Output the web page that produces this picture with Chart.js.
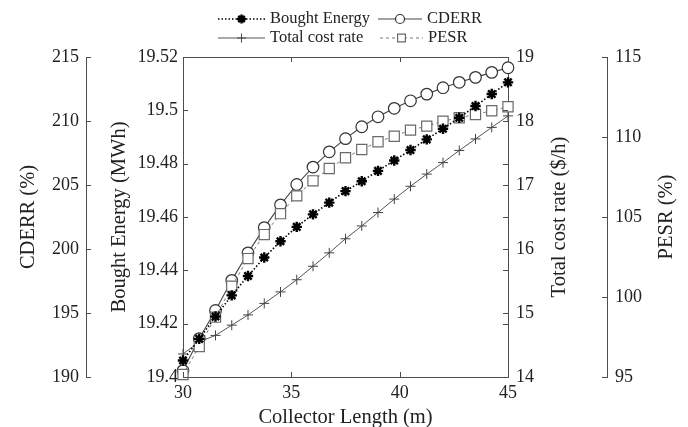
<!DOCTYPE html>
<html>
<head>
<meta charset="utf-8">
<script src="https://cdn.jsdelivr.net/npm/chart.js@4.4.1/dist/chart.umd.min.js"></script>
<style>
  html, body { margin: 0; padding: 0; background: #fff; }
  #wrap { width: 688px; height: 427px; }
</style>
</head>
<body>
<div id="wrap"><canvas id="chart" width="688" height="427"></canvas></div>
<script>
// collector length (m)
const lengths = [30, 30.75, 31.5, 32.25, 33, 33.75, 34.5, 35.25, 36, 36.75, 37.5,
                 38.25, 39, 39.75, 40.5, 41.25, 42, 42.75, 43.5, 44.25, 45];

// series
const boughtEnergy = [19.4062, 19.4143, 19.4227, 19.4306, 19.4379, 19.4448, 19.4509, 19.4563, 19.4610, 19.4654, 19.4697,
                      19.4734, 19.4773, 19.4812, 19.4851, 19.4891, 19.4931, 19.4972, 19.5016, 19.5061, 19.5105];
const cderr = [190.5, 193.0, 195.2, 197.55, 199.7, 201.67, 203.45, 205.04, 206.4, 207.59, 208.62,
               209.55, 210.33, 210.99, 211.58, 212.1, 212.6, 213.02, 213.41, 213.8, 214.16];
const totalCost = [14.36, 14.55, 14.65, 14.81, 14.97, 15.15, 15.33, 15.52, 15.73, 15.94, 16.16,
                   16.36, 16.57, 16.78, 16.98, 17.17, 17.35, 17.54, 17.72, 17.9, 18.08];
const pesr = [95.16, 96.91, 98.74, 100.67, 102.4, 103.9, 105.21, 106.32, 107.26, 108.03, 108.7,
              109.22, 109.7, 110.05, 110.43, 110.68, 110.99, 111.2, 111.41, 111.64, 111.89];

// tick labels
const xTicks = [30, 35, 40, 45];
const beTicks = [19.4, 19.42, 19.44, 19.46, 19.48, 19.5, 19.52];
const cdTicks = [190, 195, 200, 205, 210, 215];
const tcTicks = [14, 15, 16, 17, 18, 19];
const peTicks = [95, 100, 105, 110, 115];

const serif = "'Liberation Serif', 'Times New Roman', serif";
const textColor = '#222';
const axisColor = '#4d4d4d';

Chart.defaults.font.family = serif;
Chart.defaults.color = textColor;

function pts(ys) {
    return lengths.map((x, i) => ({ x: x, y: ys[i] }));
}

function setTicks(list) {
    return scale => { scale.ticks = list.map(v => ({ value: v })); };
}

const tickFont = { family: serif, size: 18 };
const titleFont = { family: serif, size: 20.5 };

const datasets = [
    {
        label: 'Bought Energy', data: pts(boughtEnergy), yAxisID: 'yBE', order: 1,
        borderColor: '#000', borderWidth: 1.6, borderDash: [1.5, 2],
        pointStyle: 'star', pointRadius: 5.2, pointBorderWidth: 2.4,
        pointBackgroundColor: '#000', pointBorderColor: '#000'
    },
    {
        label: 'PESR', data: pts(pesr), yAxisID: 'yPE', order: 2,
        borderColor: '#777', borderWidth: 1, borderDash: [3, 3],
        pointStyle: 'rect', pointRadius: 7.2, pointBorderWidth: 1.2,
        pointBackgroundColor: '#fff', pointBorderColor: '#6a6a6a'
    },
    {
        label: 'CDERR', data: pts(cderr), yAxisID: 'yCD', order: 3,
        borderColor: '#444', borderWidth: 1.1,
        pointStyle: 'circle', pointRadius: 5.8, pointBorderWidth: 1.2,
        pointBackgroundColor: '#fff', pointBorderColor: '#333'
    },
    {
        label: 'Total cost rate', data: pts(totalCost), yAxisID: 'yTC', order: 4,
        borderColor: '#555', borderWidth: 1,
        pointStyle: 'cross', pointRadius: 5, pointBorderWidth: 1,
        pointBackgroundColor: '#555', pointBorderColor: '#444'
    }
];
datasets.forEach(d => { d.tension = 0; d.clip = false; d.pointHoverRadius = d.pointRadius; });

// no grid, just the axis line
const plainGrid = { drawOnChartArea: false, drawTicks: false };
const plainBorder = { color: axisColor, width: 1 };
const trim = v => String(Number(v.toFixed(2)));

// tick marks, box edges, right-hand titles and the legend
const decorations = {
    id: 'decorations',
    afterDatasetsDraw(chart) {
        const { ctx, chartArea: a, scales } = chart;
        const len = 5;
        ctx.save();
        ctx.strokeStyle = axisColor;
        ctx.lineWidth = 1;
        ctx.beginPath();
        ctx.moveTo(a.left, Math.round(a.top) + 0.5);
        ctx.lineTo(a.right, Math.round(a.top) + 0.5);
        scales.x.ticks.forEach(t => {
            const px = Math.round(scales.x.getPixelForValue(t.value)) + 0.5;
            ctx.moveTo(px, a.bottom); ctx.lineTo(px, a.bottom - len);
            ctx.moveTo(px, a.top); ctx.lineTo(px, a.top + len);
        });
        scales.yBE.ticks.forEach(t => {
            const py = Math.round(scales.yBE.getPixelForValue(t.value)) + 0.5;
            ctx.moveTo(a.left, py); ctx.lineTo(a.left + len, py);
            ctx.moveTo(a.right, py); ctx.lineTo(a.right - len, py);
        });
        scales.yTC.ticks.forEach(t => {
            const py = Math.round(scales.yTC.getPixelForValue(t.value)) + 0.5;
            ctx.moveTo(a.right, py); ctx.lineTo(a.right - len, py);
        });
        scales.yCD.ticks.forEach(t => {
            const py = Math.round(scales.yCD.getPixelForValue(t.value)) + 0.5;
            const bx = scales.yCD.right;
            ctx.moveTo(bx, py); ctx.lineTo(bx + len, py);
        });
        scales.yPE.ticks.forEach(t => {
            const py = Math.round(scales.yPE.getPixelForValue(t.value)) + 0.5;
            const bx = scales.yPE.left;
            ctx.moveTo(bx, py); ctx.lineTo(bx - len, py);
        });
        ctx.stroke();
        ctx.restore();
    },
    afterDraw(chart) {
        const { ctx, chartArea: a, scales } = chart;
        const midY = (a.top + a.bottom) / 2;
        ctx.save();
        ctx.fillStyle = textColor;
        ctx.font = '20.5px ' + serif;
        ctx.textAlign = 'center';
        ctx.textBaseline = 'middle';
        [[scales.yTC.right - 47, 'Total cost rate ($/h)'], [scales.yPE.right - 21, 'PESR (%)']].forEach(([x, text]) => {
            ctx.save();
            ctx.translate(x, midY);
            ctx.rotate(-Math.PI / 2);
            ctx.fillText(text, 0, 0);
            ctx.restore();
        });
        ctx.restore();

        // legend, two rows of two
        const byLabel = {};
        chart.data.datasets.forEach(d => { byLabel[d.label] = d; });
        const items = [
            ['Bought Energy', 218, 265, 19, 4.5],
            ['CDERR', 378, 422, 19, 4.5],
            ['Total cost rate', 218, 265, 38, 4.5],
            ['PESR', 380, 423, 38, 5.5]
        ];
        items.forEach(([label, x0, x1, y, r]) => {
            const ds = byLabel[label];
            ctx.save();
            ctx.strokeStyle = ds.borderColor;
            ctx.lineWidth = ds.borderWidth;
            ctx.setLineDash(ds.borderDash || []);
            ctx.beginPath();
            ctx.moveTo(x0, y); ctx.lineTo(x1, y);
            ctx.stroke();
            ctx.setLineDash([]);
            ctx.strokeStyle = ds.pointBorderColor;
            ctx.fillStyle = ds.pointBackgroundColor;
            ctx.lineWidth = ds.pointBorderWidth;
            Chart.helpers.drawPoint(ctx, { pointStyle: ds.pointStyle, radius: r, rotation: 0, borderWidth: ds.pointBorderWidth }, (x0 + x1) / 2, y);
            ctx.fillStyle = textColor;
            ctx.font = '16.5px ' + serif;
            ctx.textAlign = 'left';
            ctx.textBaseline = 'middle';
            ctx.fillText(label, x1 + 5, y);
            ctx.restore();
        });
    }
};

new Chart(document.getElementById('chart'), {
    type: 'line',
    data: { datasets: datasets },
    options: {
        responsive: false,
        animation: false,
        layout: { padding: { top: 57, left: 0, right: 0, bottom: 0 } },
        plugins: { legend: { display: false }, tooltip: { enabled: false } },
        scales: {
            x: {
                type: 'linear', position: 'bottom', min: 30, max: 45,
                afterBuildTicks: setTicks(xTicks),
                afterFit: s => { s.height = 50; },
                ticks: { font: tickFont, padding: 5, color: textColor },
                grid: plainGrid, border: plainBorder,
                title: { display: true, text: 'Collector Length (m)', font: titleFont, color: textColor, padding: { top: 0, bottom: -3 } }
            },
            yBE: {
                type: 'linear', position: 'left', weight: 0, min: 19.4, max: 19.52,
                afterBuildTicks: setTicks(beTicks),
                afterFit: s => { s.width = 97; },
                ticks: { font: tickFont, padding: 5, color: textColor, callback: trim },
                grid: plainGrid, border: plainBorder,
                title: { display: true, text: 'Bought Energy (MWh)', font: titleFont, color: textColor, padding: { top: 21, bottom: 0 } }
            },
            yCD: {
                type: 'linear', position: 'left', weight: 1, min: 190, max: 215,
                afterBuildTicks: setTicks(cdTicks),
                afterFit: s => { s.width = 86; },
                ticks: { font: tickFont, padding: 7, color: textColor },
                grid: plainGrid, border: plainBorder,
                title: { display: true, text: 'CDERR (%)', font: titleFont, color: textColor, padding: { top: 16, bottom: 0 } }
            },
            yTC: {
                type: 'linear', position: 'right', weight: 0, min: 14, max: 19,
                afterBuildTicks: setTicks(tcTicks),
                afterFit: s => { s.width = 99; },
                ticks: { font: tickFont, padding: 8, color: textColor },
                grid: plainGrid, border: plainBorder,
                title: { display: false }
            },
            yPE: {
                type: 'linear', position: 'right', weight: 1, min: 95, max: 115,
                afterBuildTicks: setTicks(peTicks),
                afterFit: s => { s.width = 81; },
                ticks: { font: tickFont, padding: 8, color: textColor },
                grid: plainGrid, border: plainBorder,
                title: { display: false }
            }
        }
    },
    plugins: [decorations]
});
</script>
</body>
</html>
